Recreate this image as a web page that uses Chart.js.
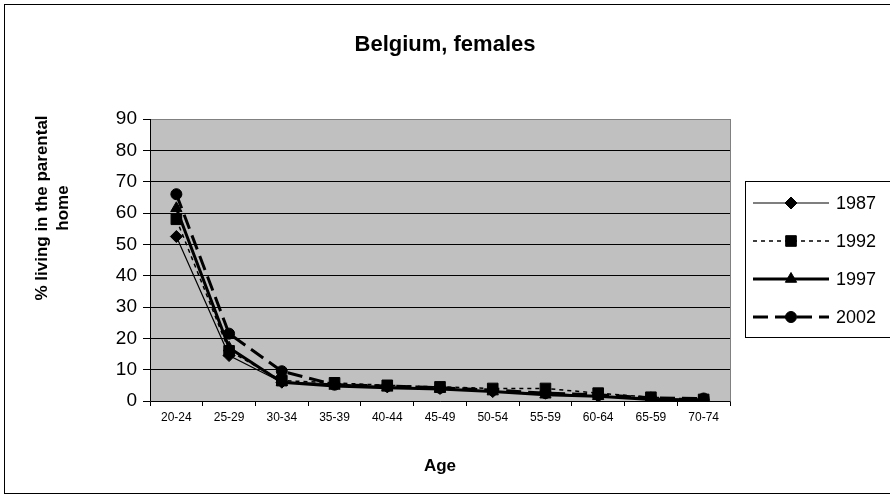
<!DOCTYPE html>
<html>
<head>
<meta charset="utf-8">
<script src="https://cdn.jsdelivr.net/npm/chart.js@4/dist/chart.umd.min.js"></script>
<style>
  html, body { margin: 0; padding: 0; background: #fff; }
  #c { display: block; }
</style>
</head>
<body>
<canvas id="c" width="890" height="502"></canvas>
<script>
// age groups and % living in the parental home
const ageGroups = ['20-24','25-29','30-34','35-39','40-44','45-49','50-54','55-59','60-64','65-59','70-74'];
const yearLabels = ['1987','1992','1997','2002'];
const v1987 = [52.5, 14.5, 6.0, 5.5, 4.5, 4.0, 3.0, 2.5, 1.5, 1.0, 0.3];
const v1992 = [58.0, 16.0, 6.5, 5.8, 5.0, 4.5, 4.0, 4.0, 2.5, 1.2, 0.5];
const v1997 = [61.5, 17.0, 6.0, 4.8, 4.2, 3.8, 3.0, 2.0, 1.5, 0.5, 0.2];
const v2002 = [66.0, 21.5, 9.5, 5.2, 4.8, 4.2, 3.5, 2.5, 2.0, 1.0, 0.8];
const yTicks = [0,10,20,30,40,50,60,70,80,90];

const FONT = '"Liberation Sans", Arial, sans-serif';

const styles = [
  { data: v1987, width: 1.2, dash: [],      point: 'rectRot',  r: 6   },
  { data: v1992, width: 1.5, dash: [4, 4],  point: 'rect',     r: 7.5 },
  { data: v1997, width: 3,   dash: [],      point: 'triangle', r: 6.5 },
  { data: v2002, width: 3,   dash: [15, 7], point: 'circle',   r: 5.5 }
];

const datasets = styles.map((s, i) => ({
  label: yearLabels[i],
  data: s.data,
  borderColor: '#000',
  backgroundColor: '#000',
  borderWidth: s.width,
  borderDash: s.dash,
  pointStyle: s.point,
  pointRadius: s.r,
  pointBorderWidth: 1,
  tension: 0,
  fill: false
}));

const decor = {
  id: 'decor',
  beforeDraw(chart) {
    const { ctx, chartArea: a } = chart;
    ctx.save();
    ctx.fillStyle = '#fff';
    ctx.fillRect(0, 0, chart.width, chart.height);
    // outer frame
    ctx.strokeStyle = '#000';
    ctx.lineWidth = 1;
    ctx.strokeRect(4.5, 4.5, 920, 489);
    // plot background
    ctx.fillStyle = '#c0c0c0';
    ctx.fillRect(a.left, a.top, a.right - a.left, a.bottom - a.top);
    ctx.restore();
  },
  afterDatasetsDraw(chart) {
    const { ctx, chartArea: a } = chart;
    ctx.save();
    ctx.strokeStyle = '#808080';
    ctx.lineWidth = 1;
    ctx.strokeRect(a.left + 0.5, a.top + 0.5, a.right - a.left, a.bottom - a.top);
    ctx.strokeStyle = '#000';
    ctx.beginPath();
    ctx.moveTo(a.left + 0.5, a.top);
    ctx.lineTo(a.left + 0.5, a.bottom + 0.5);
    ctx.lineTo(a.right + 0.5, a.bottom + 0.5);
    ctx.stroke();

    // titles
    ctx.fillStyle = '#000';
    ctx.textAlign = 'center';
    ctx.textBaseline = 'middle';
    ctx.font = 'bold 22px ' + FONT;
    ctx.fillText('Belgium, females', 445, 45);
    ctx.font = 'bold 17px ' + FONT;
    ctx.fillText('Age', (a.left + a.right) / 2, 466);
    ctx.save();
    ctx.translate(42, 208);
    ctx.rotate(-Math.PI / 2);
    ctx.fillText('% living in the parental', 0, 0);
    ctx.fillText('home', 0, 21);
    ctx.restore();

    // legend
    const lx = 745, ly = 181;
    ctx.strokeStyle = '#000';
    ctx.lineWidth = 1;
    ctx.strokeRect(lx + 0.5, ly + 0.5, 170, 156);
    ctx.textAlign = 'left';
    ctx.font = '18px ' + FONT;
    chart.data.datasets.forEach((ds, i) => {
      const y = 203 + i * 38;
      ctx.save();
      ctx.strokeStyle = '#000';
      ctx.lineWidth = ds.borderWidth;
      ctx.setLineDash(ds.borderDash);
      ctx.beginPath();
      ctx.moveTo(753, y);
      ctx.lineTo(829, y);
      ctx.stroke();
      ctx.restore();
      ctx.fillStyle = '#000';
      ctx.strokeStyle = '#000';
      Chart.helpers.drawPoint(ctx, {
        pointStyle: ds.pointStyle, radius: ds.pointRadius, rotation: 0, borderWidth: 1
      }, 791, y);
      ctx.fillStyle = '#000';
      ctx.fillText(ds.label, 836, y + 1);
    });
    ctx.restore();
  }
};

new Chart(document.getElementById('c'), {
  type: 'line',
  data: { labels: ageGroups, datasets },
  options: {
    responsive: false,
    animation: false,
    layout: { padding: { left: 0, right: 160, top: 119, bottom: 0 } },
    plugins: { legend: { display: false }, tooltip: { enabled: false }, title: { display: false } },
    scales: {
      x: {
        offset: true,
        grid: { offset: true, drawOnChartArea: false, color: '#000', tickLength: 5 },
        border: { display: false },
        ticks: { color: '#000', font: { family: FONT, size: 12 }, maxRotation: 0, autoSkip: false, padding: 4 },
        afterFit(scale) { scale.height = 101; }
      },
      y: {
        min: 0, max: 90,
        afterBuildTicks(scale) { scale.ticks = yTicks.map(v => ({ value: v })); },
        grid: { color: '#000', lineWidth: 1, tickLength: 7 },
        border: { display: false },
        ticks: { color: '#000', font: { family: FONT, size: 19 }, padding: 6 },
        afterFit(scale) { scale.width = 150; }
      }
    }
  },
  plugins: [decor]
});
</script>
</body>
</html>
